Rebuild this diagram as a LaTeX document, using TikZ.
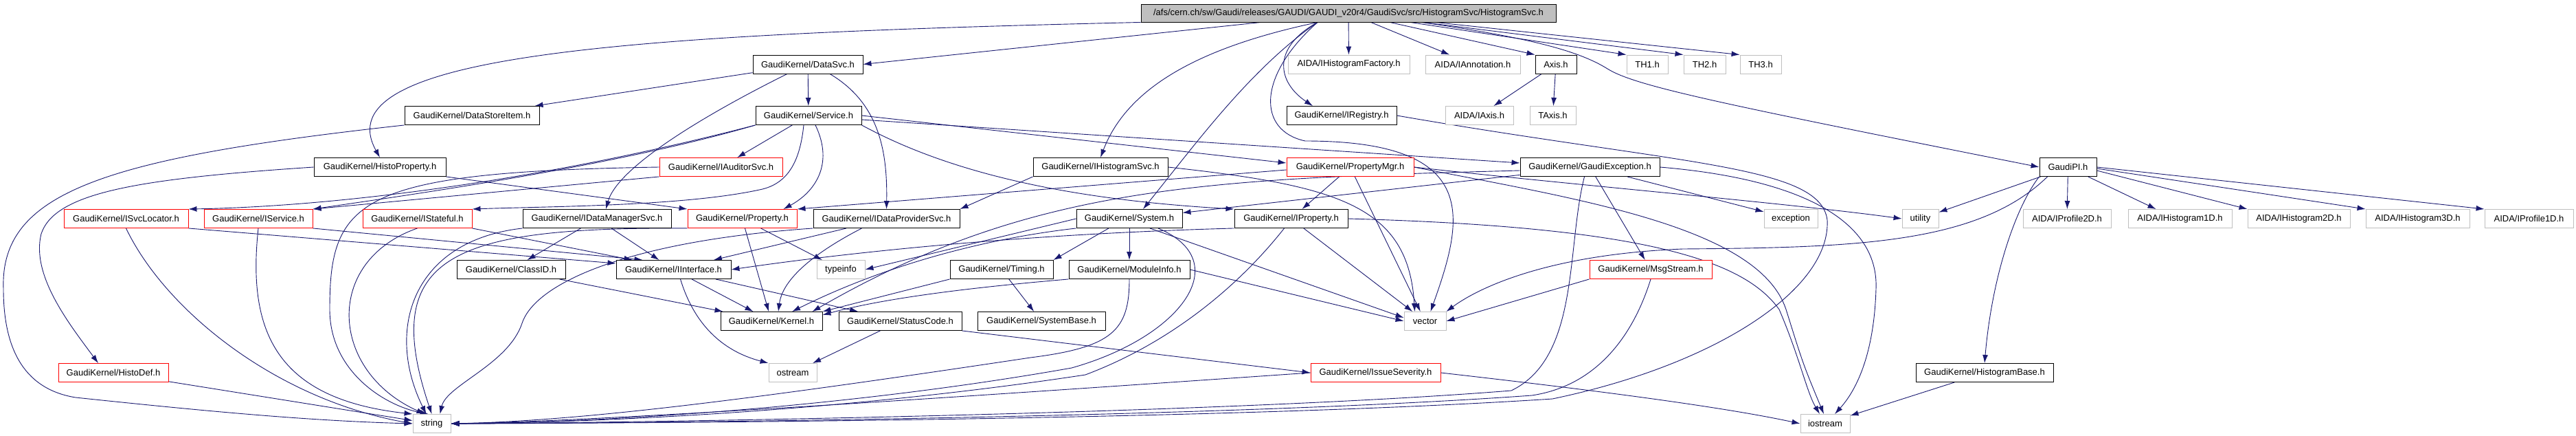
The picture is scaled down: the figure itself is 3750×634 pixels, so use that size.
\documentclass[tikz,border=0pt]{standalone}
\usepackage{fontspec}
\setmainfont{Liberation Sans}
\usepackage{xcolor}
\usepackage{tikz}
\usetikzlibrary{arrows.meta, backgrounds}
\definecolor{DX_NAVY}{HTML}{191970}
\definecolor{DX_RED}{HTML}{FF0000}
\definecolor{DX_GREY}{HTML}{BFBFBF}
\tikzset{
  hdr/.style={
    rectangle, draw=black, fill=white, line width=0.9pt,
    minimum height=27pt, inner sep=2pt,
    text centered, font=\fontsize{13}{15}\selectfont},
  redhdr/.style={hdr, draw=DX_RED},
  syshdr/.style={hdr, draw=DX_GREY},
  mainhdr/.style={hdr, fill=DX_GREY, minimum height=26pt},
  inc/.style={-{Latex[length=12pt,width=8pt]}, line width=0.9pt, color=DX_NAVY},
}
\begin{document}
\begin{tikzpicture}[x=1pt, y=-1pt]
  \useasboundingbox (0,0) rectangle (3750,634);

  % top file
  \node[mainhdr, minimum width=604pt] (main) at (1963,19)
    {/afs/cern.ch/sw/Gaudi/releases/GAUDI/GAUDI\_v20r4/GaudiSvc/src/HistogramSvc/HistogramSvc.h};

  % row 1
  \node[hdr, minimum width=160pt] (datasvc) at (1176,93.5) {GaudiKernel/DataSvc.h};
  \node[syshdr, minimum width=177pt] (histfactory) at (1963.5,93.5) {AIDA/IHistogramFactory.h};
  \node[syshdr, minimum width=138pt] (annotation) at (2144,93.5) {AIDA/IAnnotation.h};
  \node[hdr, minimum width=60pt] (axis) at (2265,93.5) {Axis.h};
  \node[syshdr, minimum width=60pt] (th1) at (2398,93.5) {TH1.h};
  \node[syshdr, minimum width=61pt] (th2) at (2481.5,93.5) {TH2.h};
  \node[syshdr, minimum width=60pt] (th3) at (2563,93.5) {TH3.h};

  % row 2
  \node[hdr, minimum width=196pt] (datastore) at (687,168) {GaudiKernel/DataStoreItem.h};
  \node[hdr, minimum width=154pt] (service) at (1177,168) {GaudiKernel/Service.h};
  \node[hdr, minimum width=160pt] (iregistry) at (1953,168) {GaudiKernel/IRegistry.h};
  \node[syshdr, minimum width=99pt] (iaxis) at (2153.5,168) {AIDA/IAxis.h};
  \node[syshdr, minimum width=67pt] (taxis) at (2260.5,168) {TAxis.h};

  % row 3
  \node[hdr, minimum width=192pt] (histoprop) at (553,243) {GaudiKernel/HistoProperty.h};
  \node[redhdr, minimum width=179pt] (auditor) at (1049.5,243) {GaudiKernel/IAuditorSvc.h};
  \node[hdr, minimum width=196pt] (ihistsvc) at (1602,243) {GaudiKernel/IHistogramSvc.h};
  \node[redhdr, minimum width=185pt] (propmgr) at (1965.5,243) {GaudiKernel/PropertyMgr.h};
  \node[hdr, minimum width=203pt] (gexc) at (2314.5,243) {GaudiKernel/GaudiException.h};
  \node[hdr, minimum width=83pt] (gaudipi) at (3010.5,243) {GaudiPI.h};

  % row 4
  \node[redhdr, minimum width=181pt] (svcloc) at (183.5,318) {GaudiKernel/ISvcLocator.h};
  \node[redhdr, minimum width=158pt] (iservice) at (376,318) {GaudiKernel/IService.h};
  \node[redhdr, minimum width=159pt] (istateful) at (607.5,318) {GaudiKernel/IStateful.h};
  \node[hdr, minimum width=216pt] (datamgr) at (869,318) {GaudiKernel/IDataManagerSvc.h};
  \node[redhdr, minimum width=159pt] (property) at (1080.5,318) {GaudiKernel/Property.h};
  \node[hdr, minimum width=213pt] (dataprov) at (1290.5,318) {GaudiKernel/IDataProviderSvc.h};
  \node[hdr, minimum width=154pt] (system) at (1644,318) {GaudiKernel/System.h};
  \node[hdr, minimum width=165pt] (iproperty) at (1879.5,318) {GaudiKernel/IProperty.h};
  \node[syshdr, minimum width=78pt] (exception) at (2607,318) {exception};
  \node[syshdr, minimum width=53pt] (utility) at (2795.5,318) {utility};
  \node[syshdr, minimum width=128pt] (prof2d) at (3009,318) {AIDA/IProfile2D.h};
  \node[syshdr, minimum width=151pt] (hist1d) at (3173.5,318) {AIDA/IHistogram1D.h};
  \node[syshdr, minimum width=149pt] (hist2d) at (3346.5,318) {AIDA/IHistogram2D.h};
  \node[syshdr, minimum width=151pt] (hist3d) at (3519.5,318) {AIDA/IHistogram3D.h};
  \node[syshdr, minimum width=129pt] (prof1d) at (3681.5,318) {AIDA/IProfile1D.h};

  % row 5
  \node[hdr, minimum width=158pt] (classid) at (744,392) {GaudiKernel/ClassID.h};
  \node[hdr, minimum width=167pt] (iinterface) at (980.5,392) {GaudiKernel/IInterface.h};
  \node[syshdr, minimum width=70pt] (typeinfo) at (1224,392) {typeinfo};
  \node[hdr, minimum width=150pt] (timing) at (1458,392) {GaudiKernel/Timing.h};
  \node[hdr, minimum width=176pt] (moduleinfo) at (1644,392) {GaudiKernel/ModuleInfo.h};
  \node[redhdr, minimum width=178pt] (msgstream) at (2403,392) {GaudiKernel/MsgStream.h};

  % row 6
  \node[hdr, minimum width=148pt] (kernel) at (1123,467) {GaudiKernel/Kernel.h};
  \node[hdr, minimum width=179pt] (statuscode) at (1310.5,467) {GaudiKernel/StatusCode.h};
  \node[hdr, minimum width=186pt] (systembase) at (1516,467) {GaudiKernel/SystemBase.h};
  \node[syshdr, minimum width=61pt] (vector) at (2074.5,467) {vector};

  % row 7
  \node[redhdr, minimum width=160pt] (histodef) at (165,542) {GaudiKernel/HistoDef.h};
  \node[syshdr, minimum width=70pt] (ostream) at (1154,542) {ostream};
  \node[redhdr, minimum width=189pt] (severity) at (2002.5,542) {GaudiKernel/IssueSeverity.h};
  \node[hdr, minimum width=200pt] (histbase) at (2889,542) {GaudiKernel/HistogramBase.h};

  % row 8
  \node[syshdr, minimum width=55pt] (string) at (628.5,616) {string};
  \node[syshdr, minimum width=72pt] (iostream) at (2657,616) {iostream};

  \begin{pgfonlayer}{background}
  \fill[white] (0,0) rectangle (3750,634);

  % from the top file
  \draw[inc] (main.south west) .. controls (900,50) and (470,80) .. (histoprop.north);
  \draw[inc] (main) -- (datasvc.east);
  \draw[inc] ([xshift=-45pt]main.south) .. controls (1740,70) and (1640,130) .. (ihistsvc.north);
  \draw[inc] ([xshift=-45pt]main.south) .. controls (1820,100) and (1740,210) .. ([xshift=20pt]system.north);
  \draw[inc] ([xshift=-45pt]main.south) .. controls (1850,70) and (1860,120) .. ([xshift=-42pt]iregistry.north);
  \draw[inc] ([xshift=-45pt]main.south) .. controls (1830,110) and (1830,190) .. (1900,205)
    .. controls (2160,205) and (2130,320) .. ([xshift=8pt]vector.north);
  \draw[inc] (main) -- (histfactory);
  \draw[inc] (main) -- (annotation);
  \draw[inc] (main) -- (axis.north west);
  \draw[inc] (main) -- (th1.north west);
  \draw[inc] (main) -- (th2.north west);
  \draw[inc] (main) -- (th3.north west);
  \draw[inc] ([xshift=106pt]main.south) .. controls (2230,55) and (2300,75) .. (2340,100)
    .. controls (2380,125) and (2500,150) .. (gaudipi.west);

  \draw[inc] (axis) -- (iaxis);
  \draw[inc] (axis) -- (taxis);

  % data service
  \draw[inc] (datasvc) -- (datastore);
  \draw[inc] (datasvc) -- (service);
  \draw[inc] ([xshift=-30pt]datasvc.south) .. controls (1040,160) and (900,240) .. ([xshift=13pt]datamgr.north);
  \draw[inc] ([xshift=32pt]datasvc.south) .. controls (1280,150) and (1292,220) .. (dataprov.north);
  \draw[inc] (datastore.south west) .. controls (150,230) and (0,280) .. (5,420)
    .. controls (5,500) and (30,565) .. (110,578) .. controls (300,598) and (450,612) .. (string.west);

  \draw[inc] (histoprop.west) .. controls (200,260) and (80,280) .. (60,340)
    .. controls (45,400) and (100,470) .. ([xshift=-22pt]histodef.north);
  \draw[inc] (histoprop.south east) -- (property.north west);
  \draw[inc] (histodef) -- (string);

  % service
  \draw[inc] (service) -- (auditor);
  \draw[inc] (service.south west) .. controls (800,260) and (500,300) .. (svcloc.north east);
  \draw[inc] (service.south west) .. controls (900,240) and (620,280) .. (iservice.north east);
  \draw[inc] ([xshift=-7pt]service.south) .. controls (1165,230) and (1150,265) .. (1110,275)
    .. controls (1000,300) and (800,300) .. (istateful.north east);
  \draw[inc] ([xshift=10pt]service.south) .. controls (1215,240) and (1185,280) .. ([xshift=-20pt]property.north east);
  \draw[inc] (service.east) -- ([yshift=6pt]propmgr.west);
  \draw[inc] ([yshift=-6pt]service.east) -- ([yshift=6pt]gexc.west);
  \draw[inc] (service.south east) .. controls (1380,250) and (1550,290) .. (iproperty.north west);

  \draw[inc] (auditor.south west) -- (iservice.north east);
  \draw[inc] (auditor.west) .. controls (520,250) and (480,290) .. (480,450)
    .. controls (480,540) and (560,590) .. ([xshift=-5pt]string.north);

  % interfaces
  \draw[inc] (svcloc.south east) -- ([yshift=9pt]iinterface.west);
  \draw[inc] (svcloc.south) .. controls (240,450) and (400,580) .. (string.west);
  \draw[inc] (iservice.south east) -- ([xshift=-45pt]iinterface.north);
  \draw[inc] (iservice.south) .. controls (360,480) and (400,580) .. (string.north west);
  \draw[inc] (istateful.south east) -- ([xshift=-60pt]iinterface.north);
  \draw[inc] (istateful.south) .. controls (470,380) and (480,540) .. ([xshift=-10pt]string.north);
  \draw[inc] (datamgr) -- (classid);
  \draw[inc] (datamgr) -- (iinterface);
  \draw[inc] (datamgr.south west) .. controls (600,350) and (560,480) .. ([xshift=-8pt]string.north);
  \draw[inc] (property) -- (kernel);
  \draw[inc] (property) -- (typeinfo);
  \draw[inc] (property.south west) .. controls (660,330) and (550,370) .. (string.north);
  \draw[inc] (dataprov) -- (iinterface);
  \draw[inc] ([xshift=-36pt]dataprov.south) .. controls (1200,360) and (1140,400) .. ([xshift=10pt]kernel.north);
  \draw[inc] (dataprov.south west) .. controls (920,350) and (780,410) .. (760,470)
    .. controls (740,530) and (650,560) .. ([xshift=12pt]string.north);

  \draw[inc] (classid) -- (kernel);
  \draw[inc] (iinterface) -- (kernel);
  \draw[inc] (iinterface) -- (statuscode);
  \draw[inc] ([xshift=10pt]iinterface.south) .. controls (1010,470) and (1050,510) .. (ostream.north west);
  \draw[inc] (statuscode) -- (ostream);
  \draw[inc] (statuscode.south east) -- (severity.west);

  % system
  \draw[inc] (system) -- (moduleinfo);
  \draw[inc] ([xshift=-30pt]system.south) -- (timing.north east);
  \draw[inc] (system.south west) .. controls (1450,345) and (1300,380) .. ([xshift=30pt]kernel.north);
  \draw[inc] (system.west) -- (typeinfo.east);
  \draw[inc] ([xshift=30pt]system.south) -- ([yshift=5pt]vector.west);
  \draw[inc] ([xshift=42pt]system.south) .. controls (1800,380) and (1720,490) .. (1560,535)
    .. controls (1250,590) and (900,614) .. (string.east);
  \draw[inc] (timing) -- (systembase);
  \draw[inc] (timing.south west) -- (kernel.north east);
  \draw[inc] (moduleinfo.east) -- (vector.west);
  \draw[inc] (moduleinfo.south west) .. controls (1450,415) and (1300,430) .. ([yshift=-5pt]kernel.north east);
  \draw[inc] (moduleinfo.south) .. controls (1644,480) and (1620,505) .. (1500,520)
    .. controls (1100,580) and (850,612) .. (string.east);

  % properties
  \draw[inc] (iproperty.south west) .. controls (1500,340) and (1250,365) .. (iinterface.east);
  \draw[inc] (iproperty) -- (vector);
  \draw[inc] ([xshift=-10pt]iproperty.south) .. controls (1800,420) and (1700,500) .. (1580,545)
    .. controls (1250,595) and (900,614) .. (string.east);
  \draw[inc] (iproperty.east) .. controls (2400,330) and (2540,380) .. (2590,450)
    .. controls (2620,520) and (2630,570) .. ([xshift=-8pt]iostream.north);
  \draw[inc] (propmgr) -- (iproperty);
  \draw[inc] ([yshift=-4pt]propmgr.west) -- (property.north east);
  \draw[inc] (propmgr) -- (vector);
  \draw[inc] (propmgr.east) .. controls (2300,270) and (2600,295) .. (utility.west);
  \draw[inc] (propmgr.east) .. controls (2300,290) and (2560,330) .. (2600,450)
    .. controls (2625,530) .. ([xshift=-2pt]iostream.north);

  \draw[inc] (ihistsvc.south west) -- (dataprov.north east);
  \draw[inc] (ihistsvc.east) .. controls (1950,270) and (2050,300) .. ([xshift=-15pt]vector.north);
  \draw[inc] (iregistry.east) .. controls (2450,240) and (2650,240) .. (2660,320)
    .. controls (2665,420) and (2500,530) .. (2260,580) .. controls (1800,610) and (1000,615) .. (string.east);

  % exceptions and messages
  \draw[inc] (gexc) -- (system);
  \draw[inc] ([yshift=-5pt]gexc.west) .. controls (1750,260) and (1500,270) .. ([xshift=-15pt]kernel.north east);
  \draw[inc] (gexc) -- (msgstream);
  \draw[inc] (gexc) -- (exception);
  \draw[inc] ([xshift=-8pt]gexc.south) .. controls (2280,360) and (2300,520) .. (2200,568)
    .. controls (1800,600) and (1000,614) .. (string.east);
  \draw[inc] (gexc.east) .. controls (2620,260) and (2735,320) .. (2731,420)
    .. controls (2728,520) and (2700,570) .. ([xshift=14pt]iostream.north);
  \draw[inc] (msgstream.south west) -- (vector.east);
  \draw[inc] (msgstream.south) .. controls (2380,480) and (2330,560) .. (2230,575)
    .. controls (1800,606) and (1000,615) .. (string.east);
  \draw[inc] (severity.west) .. controls (1500,570) and (900,612) .. (string.east);
  \draw[inc] (severity.east) .. controls (2300,565) and (2500,590) .. (iostream.west);
  \draw[inc] (histbase) -- (iostream);

  % GaudiPI
  \draw[inc] (gaudipi) -- (utility);
  \draw[inc] ([xshift=-30pt]gaudipi.south) .. controls (2880,355) and (2700,360) .. (2450,362)
    .. controls (2250,370) and (2150,420) .. (vector.north east);
  \draw[inc] (gaudipi.south west) .. controls (2935,300) and (2900,400) .. (histbase.north);
  \draw[inc] (gaudipi) -- (prof2d);
  \draw[inc] (gaudipi) -- ([xshift=-35pt]hist1d.north);
  \draw[inc] ([yshift=-5pt]gaudipi.east) -- (hist2d.north west);
  \draw[inc] ([yshift=-2pt]gaudipi.east) -- (hist3d.north west);
  \draw[inc] (gaudipi.east) -- (prof1d.north west);
  \end{pgfonlayer}

\end{tikzpicture}
\end{document}
